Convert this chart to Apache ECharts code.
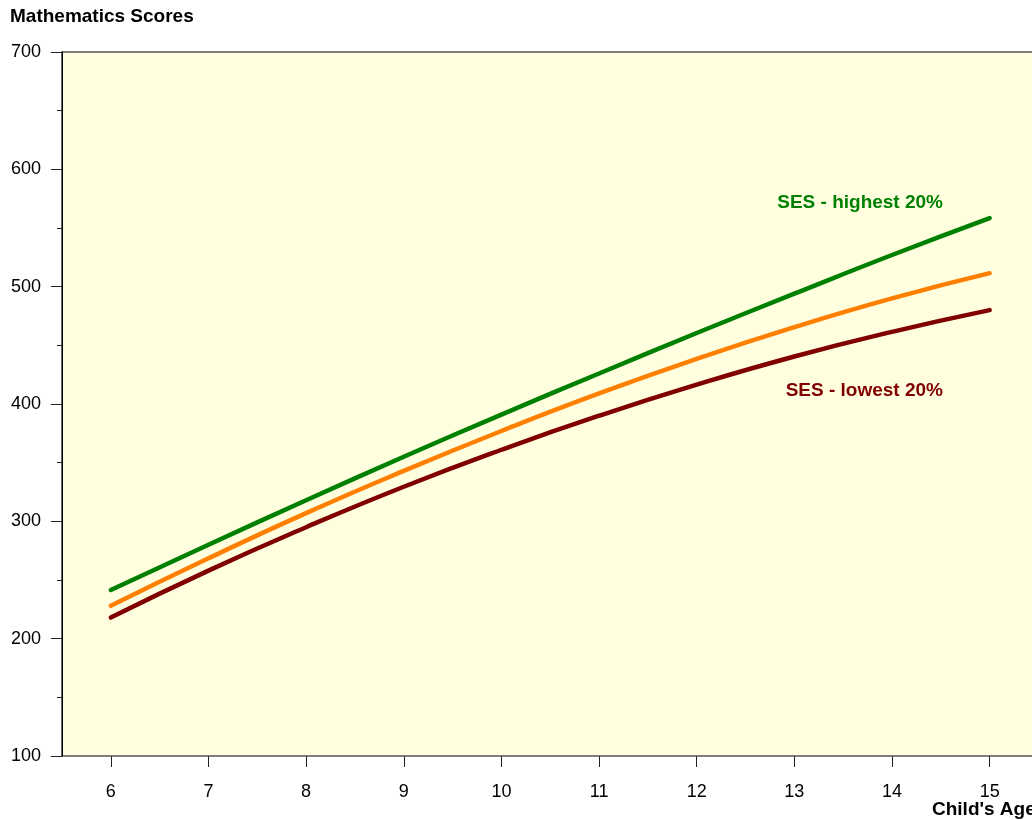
<!DOCTYPE html>
<html>
<head>
<meta charset="utf-8">
<script src="https://cdn.jsdelivr.net/npm/echarts@6/dist/echarts.min.js"></script>
<style>html,body{margin:0;padding:0;background:#fff}#c{width:1032px;height:820px}</style>
</head>
<body>
<div id="c"></div>
<script>
var ages = [6, 7, 8, 9, 10, 11, 12, 13, 14, 15];
var sesHighest = [241.5, 280, 318, 355, 391, 426, 460.5, 494, 527, 558.5];
var sesMiddle = [228, 268.5, 307, 343, 377, 409, 438.5, 465.5, 490, 511.5];
var sesLowest = [218, 258, 295, 329.5, 361, 390, 416.5, 440.5, 461.5, 480];
var xTickValues = [6, 7, 8, 9, 10, 11, 12, 13, 14, 15];
var yTickValues = [100, 200, 300, 400, 500, 600, 700];

function pairs(xs, ys) { return xs.map(function (x, i) { return [x, ys[i]]; }); }

var chart = echarts.init(document.getElementById('c'), null, { renderer: 'canvas' });
var font = 'Liberation Sans, Arial, sans-serif';
chart.setOption({
  animation: false,
  backgroundColor: '#ffffff',
  grid: {
    left: 62, top: 52, width: 996, height: 704,
    outerBoundsMode: 'none', containLabel: false,
    show: true, backgroundColor: '#FFFFE0', borderColor: '#000000', borderWidth: 1.2
  },
  xAxis: {
    type: 'value', min: 5.5, max: 15.7,
    axisLine: { show: false },
    splitLine: { show: false },
    axisTick: { show: true, length: 11, lineStyle: { color: '#222222', width: 1 }, customValues: xTickValues },
    axisLabel: { color: '#000', fontSize: 18, fontFamily: font, margin: 27, customValues: xTickValues }
  },
  yAxis: {
    type: 'value', min: 100, max: 700, interval: 100,
    axisLine: { show: true, lineStyle: { color: '#000', width: 1 } },
    splitLine: { show: false },
    axisTick: { show: true, length: 11, lineStyle: { color: '#222222', width: 1 } },
    minorTick: { show: true, splitNumber: 2, length: 5, lineStyle: { color: '#222222', width: 1 } },
    axisLabel: { color: '#000', fontSize: 18, fontFamily: font, margin: 21 }
  },
  series: [
    {
      name: 'axis', type: 'line', data: [[xTickValues[0], 100], [xTickValues[xTickValues.length - 1], 100]],
      symbol: 'none', silent: true, lineStyle: { color: '#808080', width: 1 }, z: 1
    },
    {
      name: 'SES - highest 20%', type: 'line', smooth: true, symbol: 'none',
      data: pairs(ages, sesHighest),
      lineStyle: { color: '#008000', width: 4.5, cap: 'round' }
    },
    {
      name: 'Middle', type: 'line', smooth: true, symbol: 'none',
      data: pairs(ages, sesMiddle),
      lineStyle: { color: '#FF8000', width: 4.5, cap: 'round' }
    },
    {
      name: 'SES - lowest 20%', type: 'line', smooth: true, symbol: 'none',
      data: pairs(ages, sesLowest),
      lineStyle: { color: '#800000', width: 4.5, cap: 'round' }
    }
  ],
  graphic: [
    { type: 'text', left: 10, top: 7, style: { text: 'Mathematics Scores', fill: '#000', font: 'bold 19px ' + font } },
    { type: 'text', x: 943, y: 203, style: { text: 'SES - highest 20%', fill: '#008000', font: 'bold 19px ' + font, align: 'right', verticalAlign: 'middle' } },
    { type: 'text', x: 943, y: 391, style: { text: 'SES - lowest 20%', fill: '#800000', font: 'bold 19px ' + font, align: 'right', verticalAlign: 'middle' } },
    { type: 'text', x: 932, y: 810, style: { text: "Child's Age", fill: '#000', font: 'bold 19px ' + font, align: 'left', verticalAlign: 'middle' } }
  ]
});
</script>
</body>
</html>
